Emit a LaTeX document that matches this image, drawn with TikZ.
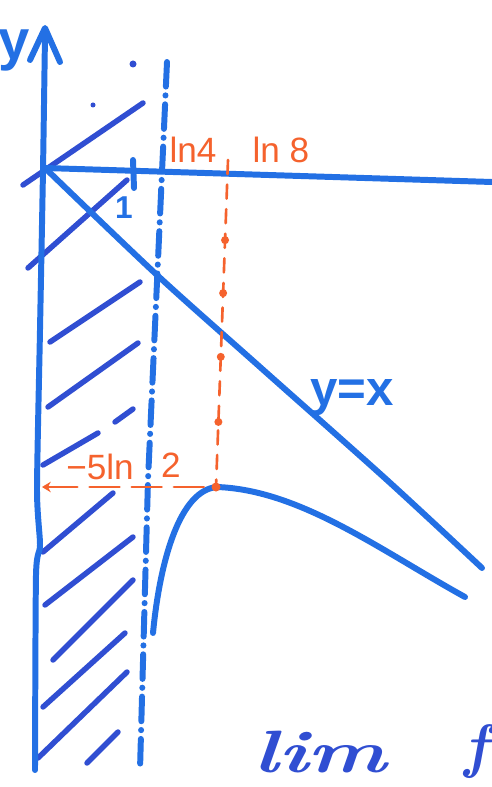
\documentclass[tikz,border=0pt]{standalone}
\usepackage{fontspec}
\setsansfont{Liberation Sans}
\usetikzlibrary{arrows.meta,calc}
\definecolor{pen}{RGB}{35,112,228}
\definecolor{hatch}{RGB}{48,78,210}
\definecolor{org}{RGB}{245,98,45}
\begin{document}
\begin{tikzpicture}[x=0.02cm,y=-0.02cm,line cap=round,line join=round,
  bluepen/.style={draw=pen,line width=3.4pt},
  hatchline/.style={draw=hatch,line width=3.1pt},
  asym/.style={draw=pen,line width=3.4pt,dash pattern=on 14pt off 5pt on 0.1pt off 5pt},
  orgline/.style={draw=org,line width=1.5pt},
  orgtext/.style={text=org,font=\sffamily\fontsize{20}{22}\selectfont,inner sep=0pt},
  bluetext/.style={text=pen,font=\sffamily\bfseries\fontsize{28}{30}\selectfont,inner sep=0pt}]
\useasboundingbox[fill=white] (0,0) rectangle (492,787);

% hatching
\foreach \a/\b in {{(23,185)}/{(143,103)},{(28,268)}/{(127,180)},{(50,342)}/{(140,282)},
  {(48,407)}/{(138,343)},{(43,465)}/{(98,433)},{(115,422)}/{(133,409)},{(43,552)}/{(113,493)},
  {(45,605)}/{(133,537)},{(53,660)}/{(133,580)},{(43,707)}/{(125,633)},
  {(38,758)}/{(127,672)},{(87,763)}/{(118,732)}}
  \draw[hatchline] \a -- \b;
\fill[hatch] (133,64) circle (3.5);
\fill[hatch] (93,105) circle (2.5);

% vertical axis with arrow
\draw[bluepen] plot[smooth,tension=0.4] coordinates {(45,35) (43,170) (40,330) (37,490) (40,545) (36,575) (35,770)};
\draw[bluepen] (30,60) -- (45,28) -- (60,62);
\node[bluetext,font=\sffamily\bfseries\fontsize{32}{34}\selectfont] (ylab) at (14,50) {y};

% horizontal line and tick
\draw[bluepen] (45,168) -- (492,182);
\draw[bluepen] (133,160) -- (134,188);
\node[bluetext,font=\sffamily\bfseries\fontsize{18}{20}\selectfont] (one) at (124,208) {1};

% y = x line
\draw[bluepen] plot[smooth] coordinates {(45,168) (157,275) (260,367) (387,480) (482,568)};
\node[bluetext] (yx) at (352,398) {y=x};

% asymptote
\draw[asym] (167,62) -- (148,480) -- (140,770);

% curve
\draw[bluepen] (153,633) .. controls (160,560) and (180,490) .. (217,487)
  .. controls (300,490) and (380,550) .. (465,597);

% orange construction
\coordinate (vt) at (228,160);
\coordinate (pk) at (216,487);
\coordinate (ax) at (42,487);
\draw[orgline,dash pattern=on 8pt off 6pt] (vt) -- (pk);
\foreach \t in {0.245,0.407,0.602,0.801}
  \fill[org] ($(vt)!\t!(pk)$) circle (4);
\fill[org] (pk) circle (4.5);
\draw[orgline,dash pattern=on 17pt off 7pt,{Stealth[length=5pt,width=6pt]}-] (ax) -- (pk);
\node[orgtext] (l4) at (193,150) {ln4};
\node[orgtext] (l8) at (281,150) {ln 8};
\node[orgtext] (m5) at (100,467) {−5ln};
\node[orgtext] (two) at (171,465) {2};

% bottom text
\node[text=hatch,font=\bfseries\itshape\fontsize{34}{36}\selectfont,xscale=1.4,inner sep=0pt] (lim) at (320,752) {lim};
\node[text=hatch,font=\bfseries\itshape\fontsize{34}{36}\selectfont,inner sep=0pt,anchor=east] (f) at (489,752) {f};
\end{tikzpicture}
\end{document}
